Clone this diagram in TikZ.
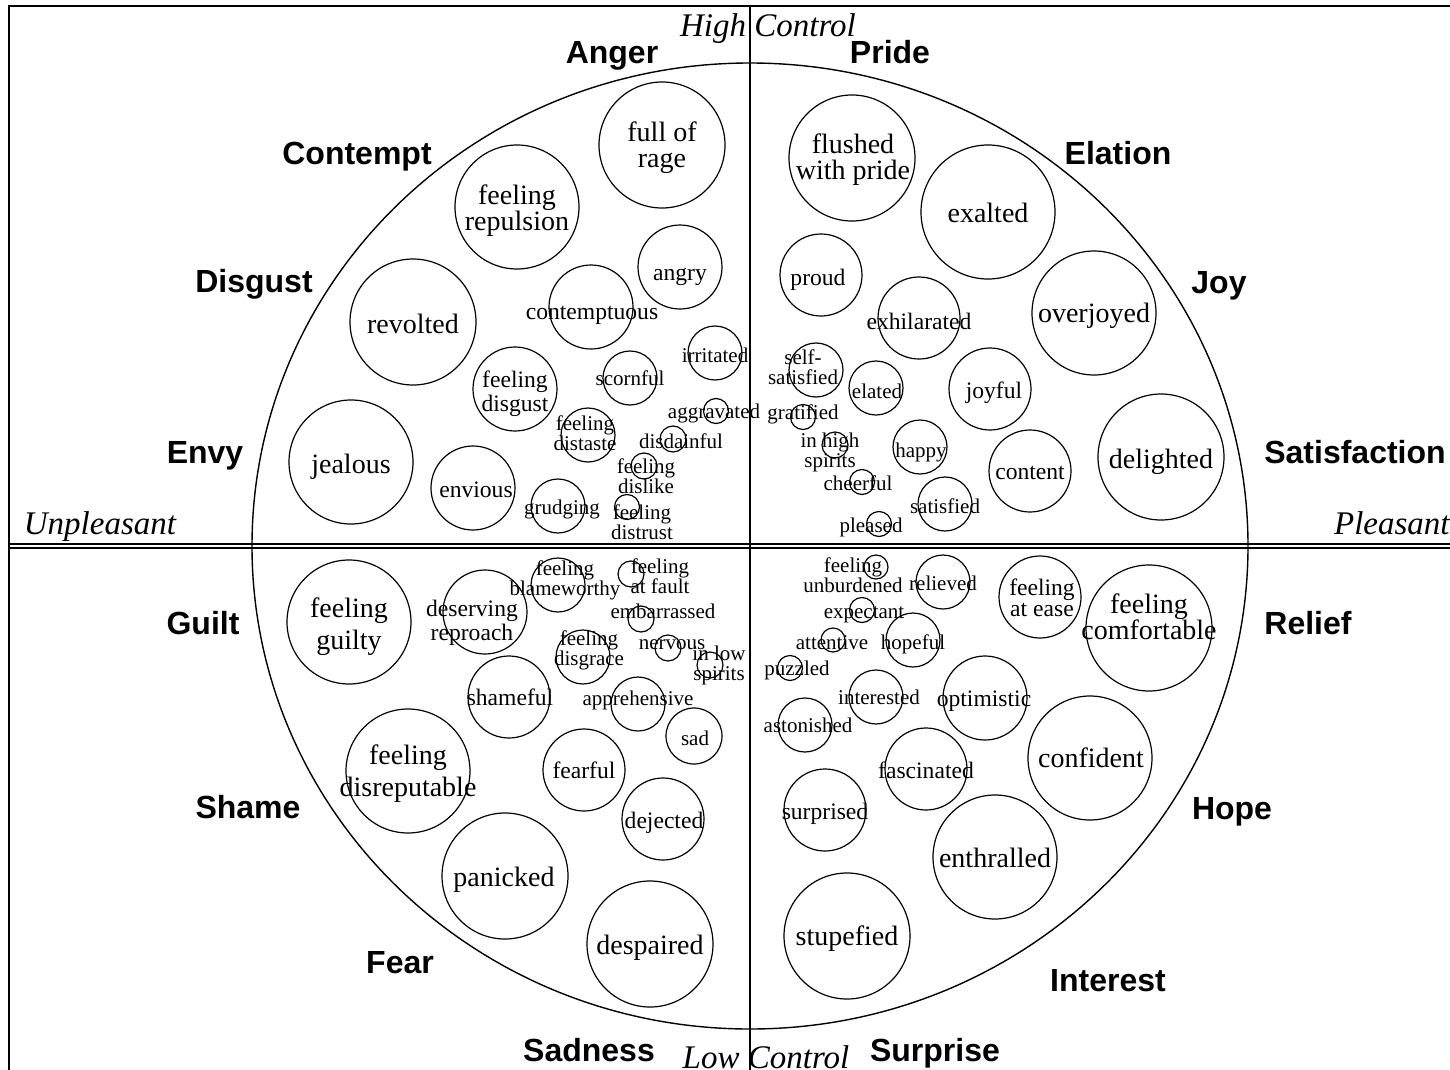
\documentclass[tikz,border=0pt]{standalone}
\usepackage{fontspec}
\usetikzlibrary{shapes.geometric}
\setmainfont{Liberation Serif}
\newfontfamily\catfont{Liberation Sans}
\tikzset{
 ring/.style={circle,draw,line width=0.6pt,inner sep=0pt},
 tl/.style={inner sep=0pt,text height=9.8pt,text depth=0pt,font=\fontsize{14}{13}\selectfont},
 tm/.style={inner sep=0pt,text height=8.3pt,text depth=0pt,font=\fontsize{11.8}{10.5}\selectfont},
 ts/.style={inner sep=0pt,text height=7.4pt,text depth=0pt,font=\fontsize{10.5}{10}\selectfont},
 tlm/.style={inner sep=0pt,align=center,yshift=-1.5pt,font=\fontsize{14}{13}\selectfont},
 tlw/.style={inner sep=0pt,align=center,yshift=-1.5pt,font=\fontsize{14}{16}\selectfont},
 tmm/.style={inner sep=0pt,align=center,yshift=-0.8pt,font=\fontsize{11.8}{10.5}\selectfont},
 tsm/.style={inner sep=0pt,align=center,yshift=-0.4pt,font=\fontsize{10.5}{10}\selectfont},
 cat/.style={inner sep=0pt,text height=11.6pt,text depth=0pt,font=\catfont\bfseries\fontsize{16}{18}\selectfont},
 axislbl/.style={inner sep=0pt,text height=11.4pt,text depth=0pt,font=\itshape\fontsize{16.5}{18}\selectfont},
 frameline/.style={line width=0.8pt}
}
\newcommand\emo[8]{\node[ring,minimum size=#4pt] (#1) at (#2,#3) {}; \node[#7] (#1-t) at (#5,#6) {#8};}
\begin{document}
\begin{tikzpicture}[x=0.5pt,y=-0.5pt]
\useasboundingbox (0,0) rectangle (1450,1070);
% frame
\coordinate (tl) at (9,6); \coordinate (tr) at (1450,6);
\coordinate (bl) at (9,1070);
\coordinate (vt) at (750,6); \coordinate (vb) at (750,1070);
\coordinate (h1l) at (9,544); \coordinate (h1r) at (1450,544);
\coordinate (h2l) at (9,548); \coordinate (h2r) at (1450,548);
\draw[line width=1pt] (tr) -- (tl) -- (bl);
\draw[frameline] (h1l) -- (h1r);
\draw[frameline] (h2l) -- (h2r);
\draw[frameline] (vt) -- (vb);
\node[ellipse, draw, line width=0.7pt, minimum width=498pt, minimum height=483pt, inner sep=0pt] (wheel) at (750,546) {};
% axis labels
\node[axislbl] (hc) at (768,25) {High Control};
\node[axislbl] (lc) at (766,1057) {Low Control};
\node[axislbl] (up) at (100,523) {Unpleasant};
\node[axislbl,anchor=east] (pl) at (1450,523) {Pleasant};
% categories
\node[cat] (anger) at (612,52) {Anger};
\node[cat] (pride) at (890,52) {Pride};
\node[cat] (contempt) at (357,153) {Contempt};
\node[cat] (elation) at (1118,153) {Elation};
\node[cat] (disgustc) at (254,281) {Disgust};
\node[cat] (joy) at (1219,282) {Joy};
\node[cat] (envy) at (205,452) {Envy};
\node[cat] (satisfaction) at (1355,452) {Satisfaction};
\node[cat] (guilt) at (203,623) {Guilt};
\node[cat] (relief) at (1308,623) {Relief};
\node[cat] (shame) at (248,807) {Shame};
\node[cat] (hope) at (1232,808) {Hope};
\node[cat] (fear) at (400,962) {Fear};
\node[cat] (interest) at (1108,980) {Interest};
\node[cat] (sadness) at (589,1050) {Sadness};
\node[cat] (surprise) at (935,1050) {Surprise};
% upper left
\emo{rage}{662}{145}{63}{662}{145}{tlm}{full of\\rage}
\emo{repulsion}{517}{207}{62}{517}{208}{tlm}{feeling\\repulsion}
\emo{angry}{680}{267}{42}{680}{272}{tm}{angry}
\emo{revolted}{413}{322}{63}{413}{324}{tl}{revolted}
\emo{contemptuous}{591}{307}{42}{592}{311}{tm}{contemptuous}
\emo{irritated}{715}{353}{27}{715}{355}{ts}{irritated}
\emo{fdisgust}{515}{389}{42}{515}{392}{tmm}{feeling\\disgust}
\emo{scornful}{630}{378}{27}{630}{378}{ts}{scornful}
\emo{aggravated}{716}{411}{12.5}{714}{411}{ts}{aggravated}
\emo{distaste}{588}{435}{27}{585}{432}{tsm}{feeling\\distaste}
\emo{disdainful}{673}{439}{13}{681}{441}{ts}{disdainful}
\emo{dislike}{644}{466}{13}{646}{475}{tsm}{feeling\\dislike}
\emo{jealous}{351}{462}{62}{351}{464}{tl}{jealous}
\emo{envious}{473}{488}{42}{476}{489}{tm}{envious}
\emo{grudging}{558}{506}{27}{562}{507}{ts}{grudging}
\emo{distrust}{627}{507}{12.5}{642}{521}{tsm}{feeling\\distrust}
% upper right
\emo{flushed}{852}{158}{63}{853}{157}{tlm}{flushed\\with pride}
\emo{exalted}{988}{212}{67}{988}{213}{tl}{exalted}
\emo{overjoyed}{1094}{313}{62}{1094}{313}{tl}{overjoyed}
\emo{proud}{821}{275}{41}{818}{277}{tm}{proud}
\emo{exhilarated}{919}{318}{41}{919}{321}{tm}{exhilarated}
\emo{selfsat}{816}{370}{27}{803}{366}{tsm}{self-\\satisfied}
\emo{elated}{876}{388}{27}{877}{391}{ts}{elated}
\emo{joyful}{990}{389}{41}{994}{390}{tm}{joyful}
\emo{gratified}{803}{417}{12.5}{803}{412}{ts}{gratified}
\emo{delighted}{1161}{457}{63}{1161}{459}{tl}{delighted}
\emo{highspirits}{835}{445}{13}{830}{452}{tsm}{in high\\spirits}
\emo{happy}{920}{447}{27}{921}{450}{ts}{happy}
\emo{content}{1030}{471}{41}{1030}{471}{tm}{content}
\emo{cheerful}{862}{482}{12.5}{858}{483}{ts}{cheerful}
\emo{satisfied}{945}{504}{27}{945}{506}{ts}{satisfied}
\emo{pleased}{879}{524}{12.5}{871}{525}{ts}{pleased}
% lower left
\emo{guilty}{349}{622}{62}{349}{624}{tlw}{feeling\\guilty}
\emo{reproach}{485}{612}{42}{472}{621}{tmm}{deserving\\reproach}
\emo{blameworthy}{558}{585}{27}{565}{580}{tsm}{feeling\\blameworthy}
\emo{atfault}{631}{574}{13}{660}{575}{tsm}{feeling\\at fault}
\emo{embarrassed}{641}{619}{13}{663}{611}{ts}{embarrassed}
\emo{disgrace}{583}{657}{27}{589}{650}{tsm}{feeling\\disgrace}
\emo{nervous}{668}{648}{13}{672}{642}{ts}{nervous}
\emo{lowspirits}{710}{665}{13}{719}{665}{tsm}{in low\\spirits}
\emo{shameful}{509}{697}{41}{510}{697}{tm}{shameful}
\emo{apprehensive}{638}{704}{27}{638}{698}{ts}{apprehensive}
\emo{sad}{694}{736}{28}{695}{738}{ts}{sad}
\emo{disreputable}{408}{771}{62}{408}{771}{tlw}{feeling\\disreputable}
\emo{fearful}{584}{770}{41}{584}{770}{tm}{fearful}
\emo{dejected}{663}{819}{41}{664}{820}{tm}{dejected}
\emo{panicked}{505}{876}{63}{504}{877}{tl}{panicked}
\emo{despaired}{650}{944}{63}{650}{945}{tl}{despaired}
% lower right
\emo{unburdened}{876}{567}{12}{853}{574}{tsm}{feeling\\unburdened}
\emo{relieved}{943}{582}{27}{943}{583}{ts}{relieved}
\emo{expectant}{862}{610}{12.5}{864}{611}{ts}{expectant}
\emo{hopeful}{913}{640}{27}{913}{642}{ts}{hopeful}
\emo{attentive}{833}{640}{12}{832}{642}{ts}{attentive}
\emo{puzzled}{790}{668}{12.5}{797}{668}{ts}{puzzled}
\emo{interested}{876}{697}{27}{879}{697}{ts}{interested}
\emo{optimistic}{985}{698}{42}{984}{698}{tm}{optimistic}
\emo{astonished}{805}{725}{27}{808}{725}{ts}{astonished}
\emo{atease}{1040}{597}{41}{1042}{596}{tmm}{feeling\\at ease}
\emo{comfortable}{1149}{628}{63}{1149}{614}{tlm}{feeling\\comfortable}
\emo{confident}{1090}{758}{62}{1091}{758}{tl}{confident}
\emo{fascinated}{926}{769}{41}{926}{770}{tm}{fascinated}
\emo{surprised}{825}{810}{41}{825}{811}{tm}{surprised}
\emo{enthralled}{995}{857}{62}{995}{858}{tl}{enthralled}
\emo{stupefied}{847}{936}{63}{847}{936}{tl}{stupefied}
\end{tikzpicture}
\end{document}
